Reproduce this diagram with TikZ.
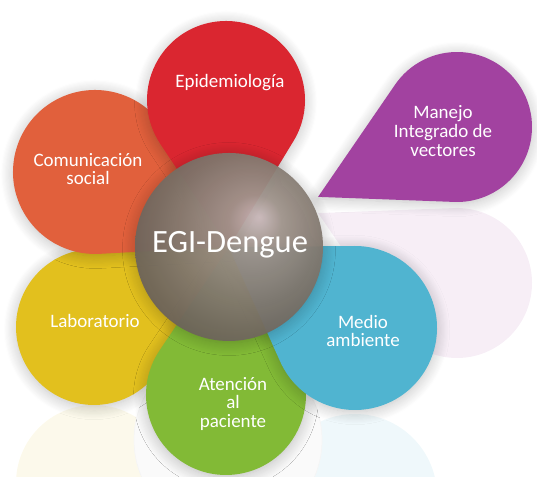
\documentclass[tikz,border=0pt]{standalone}
\usepackage{fontspec}
\setmainfont{Carlito}
\usetikzlibrary{calc}
\usetikzlibrary{shadows.blur}

\definecolor{epired}{RGB}{218,38,48}
\definecolor{comorange}{RGB}{225,96,60}
\definecolor{labyellow}{RGB}{226,192,30}
\definecolor{atgreen}{RGB}{130,186,54}
\definecolor{medcyan}{RGB}{80,180,208}
\definecolor{manpurple}{RGB}{162,66,160}
\definecolor{sphhi}{RGB}{204,186,188}
\definecolor{sphmid}{RGB}{162,150,142}
\definecolor{sphbody}{RGB}{130,120,110}
\definecolor{sphdark}{RGB}{100,91,82}
\pgfdeclareradialshading{egisphere}{\pgfqpoint{8bp}{8bp}}{color(0bp)=(sphhi); color(7bp)=(sphmid); color(20bp)=(sphbody); color(33bp)=(sphdark); color(50bp)=(sphdark)}

\tikzset{
  petal/.style={blur shadow={shadow xshift=0pt, shadow yshift=-0.4mm, shadow blur radius=2.5mm, shadow blur steps=12, shadow opacity=25}},
  ghost/.style={opacity=0.09},
  lbl/.style={text=white, align=center, font=\fontsize{10.8}{10.6}\selectfont},
}

\begin{document}
\begin{tikzpicture}
    \useasboundingbox (0,0) rectangle (10.74,9.54);
    \clip (0,0) rectangle (10.74,9.54);

    % Reflections
    \fill[labyellow, ghost] (1.88,-0.12) circle (1.56);
    \fill[medcyan, ghost] (7.10,-0.38) circle (1.64);
    \draw[black!4, fill=black!2] (4.56,0.74) circle (1.88);
    \begin{scope}[shift={(9.14,3.88)}, rotate=153.3]
        \fill[manpurple, ghost] (3.11,0) -- (61.2:1.50) arc[start angle=61.2, end angle=298.8, radius=1.50] -- cycle;
    \end{scope}

    % Laboratorio
    \begin{scope}[shift={(1.88,3.00)}, rotate=30.65]
        \fill[labyellow, petal] (3.14,0) -- (60.2:1.56) arc[start angle=60.2, end angle=299.8, radius=1.56] -- cycle;
    \end{scope}

    % Atencion al paciente
    \begin{scope}[shift={(4.52,1.64)}, rotate=88.8]
        \fill[atgreen, petal] (2.96,0) -- (57.3:1.60) arc[start angle=57.3, end angle=302.7, radius=1.60] -- cycle;
    \end{scope}

    % Medio ambiente
    \begin{scope}[shift={(7.10,2.98)}, rotate=147.3]
        \fill[medcyan, petal] (3.00,0) -- (56.9:1.64) arc[start angle=56.9, end angle=303.1, radius=1.64] -- cycle;
    \end{scope}

    % Comunicacion social
    \begin{scope}[shift={(1.90,6.10)}, rotate=-29.2]
        \fill[comorange, petal] (3.07,0) -- (57.7:1.64) arc[start angle=57.7, end angle=302.3, radius=1.64] -- cycle;
    \end{scope}

    % Epidemiologia
    \begin{scope}[shift={(4.52,7.54)}, rotate=-88.8]
        \fill[epired, petal] (2.94,0) -- (57.5:1.58) arc[start angle=57.5, end angle=302.5, radius=1.58] -- cycle;
    \end{scope}

    % Manejo integrado de vectores
    \begin{scope}[shift={(9.14,7.00)}, rotate=206.7]
        \fill[manpurple, petal] (3.11,0) -- (61.2:1.50) arc[start angle=61.2, end angle=298.8, radius=1.50] -- cycle;
    \end{scope}

    % Centre
    \shade[shading=egisphere, opacity=0.94, petal] (4.58,4.60) circle (1.88);

    % Labels
    \node[lbl, font=\fontsize{18.5}{20}\selectfont] (egi) at (4.60,4.64) {EGI-Dengue};
    \node[lbl] (epi) at (4.60,7.88) {Epidemiología};
    \node[lbl] (com) at (1.76,6.16) {Comunicación\\social};
    \node[lbl] (lab) at (1.90,3.12) {Laboratorio};
    \node[lbl] (ate) at (4.66,1.46) {Atención\\al\\paciente};
    \node[lbl] (med) at (7.26,2.92) {Medio\\ambiente};
    \node[lbl] (man) at (8.86,6.92) {Manejo\\Integrado de\\vectores};
\end{tikzpicture}
\end{document}
